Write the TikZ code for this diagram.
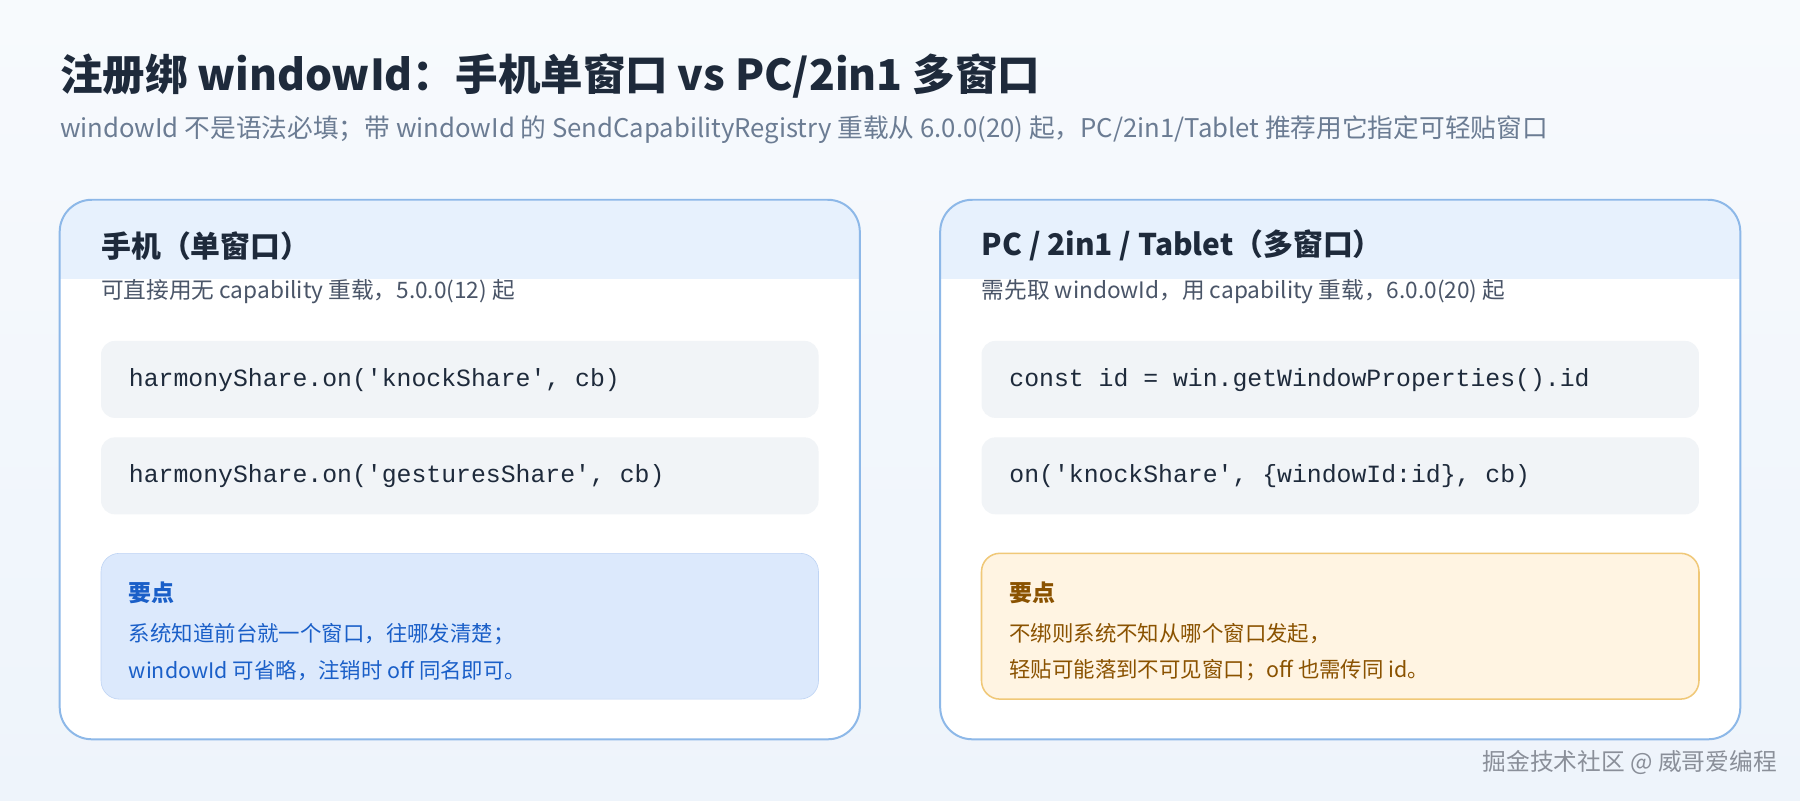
\documentclass[tikz,border=0pt]{standalone}
\usepackage{fontspec}
\setmainfont{Noto Sans CJK SC}
\setmonofont{Liberation Mono}
\usetikzlibrary{backgrounds}
\definecolor{bgA}{HTML}{F7FAFD}
\definecolor{bgB}{HTML}{EEF4FB}
\definecolor{titlec}{HTML}{1E2A3B}
\definecolor{subc}{HTML}{6B7C93}
\definecolor{bodyc}{HTML}{4A5568}
\definecolor{cardb}{HTML}{8DB8E8}
\definecolor{headf}{HTML}{E7F1FD}
\definecolor{codef}{HTML}{F1F4F7}
\definecolor{blueF}{HTML}{DCE9FC}
\definecolor{blueT}{HTML}{1A5FC8}
\definecolor{oranF}{HTML}{FFF4E2}
\definecolor{oranB}{HTML}{F0C878}
\definecolor{oranT}{HTML}{8A5200}
\definecolor{wm}{HTML}{8A8F99}
\tikzset{
 x=0.75pt,y=-0.75pt,
 txt/.style={anchor=west,inner sep=0pt},
 hdr/.style={txt,font=\fontsize{19.5}{23}\selectfont\bfseries,text=titlec},
 sub/.style={txt,font=\fontsize{14.8}{18}\selectfont,text=bodyc},
 code/.style={txt,font=\ttfamily\fontsize{16.2}{19}\selectfont,text=titlec},
 pt/.style={txt,font=\fontsize{14}{17}\selectfont},
 ptb/.style={txt,font=\fontsize{15}{18}\selectfont\bfseries},
}
\begin{document}
\begin{tikzpicture}
\path[use as bounding box,top color=bgA,bottom color=bgB] (0,0) rectangle (1568,697);
\node[txt,font=\fontsize{27.8}{32}\selectfont\bfseries,text=titlec] (title) at (52,66) {注册绑 windowId：手机单窗口 vs PC/2in1 多窗口};
\node[txt,font=\fontsize{16.8}{20}\selectfont,text=subc] (subtitle) at (52,113) {windowId 不是语法必填；带 windowId 的 SendCapabilityRegistry 重载从 6.0.0(20) 起，PC/2in1/Tablet 推荐用它指定可轻贴窗口};
% cards
\foreach \x in {52,819}{
 \begin{scope}
 \clip[rounded corners=21pt] (\x,174) rectangle ++(697,470);
 \fill[white] (\x,174) rectangle ++(697,470);
 \fill[headf] (\x,174) rectangle ++(697,69);
 \end{scope}
 \draw[cardb,line width=1.3pt,rounded corners=21pt] (\x,174) rectangle ++(697,470);
 \fill[codef,rounded corners=9pt] (\x+36,297) rectangle ++(625,67);
 \fill[codef,rounded corners=9pt] (\x+36,381) rectangle ++(625,67);
}
\node[hdr] (hL) at (88,214) {手机（单窗口）};
\node[sub] (sL) at (88,254) {可直接用无 capability 重载，5.0.0(12) 起};
\node[code] (c1) at (112,331) {harmonyShare.on('knockShare', cb)};
\node[code] (c2) at (112,415) {harmonyShare.on('gesturesShare', cb)};
\draw[fill=blueF,draw=blueF!85!blueT,rounded corners=12pt] (88,482) rectangle (713,609);
\node[ptb,text=blueT] (pL) at (112,516) {要点};
\node[pt,text=blueT] (pL1) at (112,552) {系统知道前台就一个窗口，往哪发清楚；};
\node[pt,text=blueT] (pL2) at (112,584) {windowId 可省略，注销时 off 同名即可。};

\node[hdr] (hR) at (855,214) {PC / 2in1 / Tablet（多窗口）};
\node[sub] (sR) at (855,254) {需先取 windowId，用 capability 重载，6.0.0(20) 起};
\node[code] (c3) at (879,331) {const id = win.getWindowProperties().id};
\node[code] (c4) at (879,415) {on('knockShare', \{windowId:id\}, cb)};
\draw[fill=oranF,draw=oranB,line width=1pt,rounded corners=12pt] (855,482) rectangle (1480,609);
\node[ptb,text=oranT] (pR) at (879,516) {要点};
\node[pt,text=oranT] (pR1) at (879,552) {不绑则系统不知从哪个窗口发起，};
\node[pt,text=oranT] (pR2) at (879,584) {轻贴可能落到不可见窗口；off 也需传同 id。};

\node[anchor=east,inner sep=0pt,font=\fontsize{15.5}{18}\selectfont,text=wm] (wmk) at (1548,664) {掘金技术社区 @ 威哥爱编程};
\end{tikzpicture}
\end{document}
